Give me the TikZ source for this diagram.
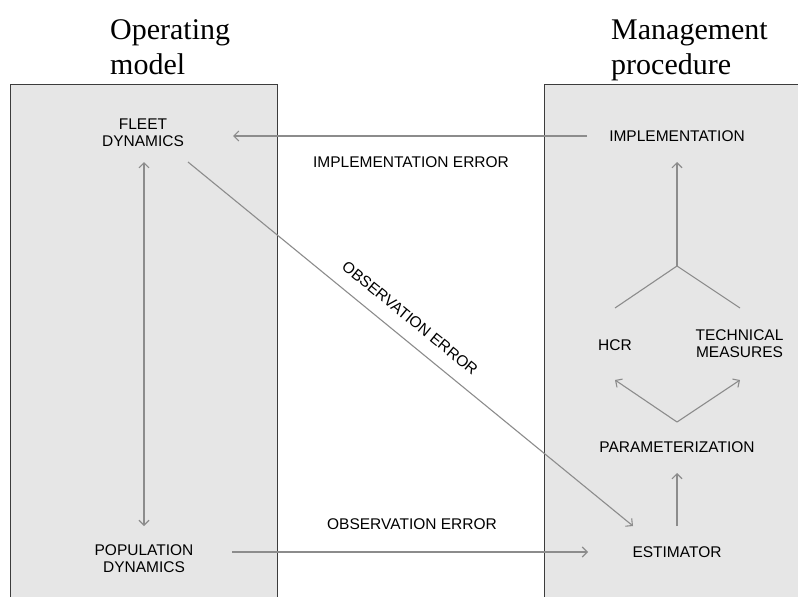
\documentclass[tikz,border=0pt]{standalone}
\usepackage{fontspec}
\setmainfont{Liberation Serif}
\newfontfamily\labelfont{Liberation Sans}
\usetikzlibrary{arrows.meta,calc}

\definecolor{panelfill}{HTML}{E6E6E6}
\definecolor{panelline}{HTML}{3C3C3C}
\definecolor{linkgray}{HTML}{8C8C8C}

\tikzset{
  panel/.style={fill=panelfill, draw=panelline, line width=1pt},
  heading/.style={anchor=north west, inner sep=0pt, align=left,
    font=\fontsize{30}{35}\selectfont},
  box/.style={inner sep=0pt, align=center,
    font=\labelfont\fontsize{15.5}{17}\selectfont},
  tag/.style={inner sep=0pt, font=\labelfont\fontsize{15.5}{17}\selectfont},
  link/.style={draw=linkgray, line width=1.1pt},
  arr/.style={link, -{Straight Barb[length=5pt,width=10pt]}},
  dblarr/.style={link, {Straight Barb[length=5pt,width=10pt]}-{Straight Barb[length=5pt,width=10pt]}}
}

\begin{document}
\begin{tikzpicture}[x=1pt, y=-1pt]
  \clip (0,0) rectangle (798,597);
  \useasboundingbox (0,0) rectangle (798,597);

  % the two panels
  \path[panel] (10,620) -- (10,84) -- (277,84) -- (277,620);
  \path[panel] (544,620) -- (544,84) -- (820,84) -- (820,620);

  % panel headings
  \node[heading] (hOM) at (110,19.5) {Operating\\model};
  \node[heading] (hMP) at (611,19.5) {Management\\procedure};

  % operating model
  \node[box] (fleet) at (143,133) {FLEET\\DYNAMICS};
  \node[box] (pop) at (144,559) {POPULATION\\DYNAMICS};

  % management procedure
  \node[box] (impl) at (677,136) {IMPLEMENTATION};
  \node[box] (hcr) at (615,345) {HCR};
  \node[box] (tech) at (739.5,344) {TECHNICAL\\MEASURES};
  \node[box] (param) at (677,447) {PARAMETERIZATION};
  \node[box] (est) at (677,552) {ESTIMATOR};

  % error labels
  \node[tag] (implerr) at (411,162) {IMPLEMENTATION ERROR};
  \node[tag] (obserr) at (412,524) {OBSERVATION ERROR};
  \node[tag, rotate=-39.3] (obserrdiag) at (410,318) {OBSERVATION ERROR};

  % junctions inside the management procedure
  \coordinate (join) at ($(impl)+(0,130)$);
  \coordinate (split) at ($(param)+(0,-25)$);

  % connectors
  \draw[dblarr] ($(fleet)+(1,29)$) -- ($(pop)+(0,-33)$);
  \draw[arr] ($(impl)+(-90,0)$) -- ($(fleet)+(90,3)$);
  \draw[arr] ($(fleet)+(45,29)$) -- ($(est)+(-44,-26)$);
  \draw[arr] ($(pop)+(88,-7)$) -- ($(est)+(-89,0)$);
  \draw[arr] ($(est)+(0,-26)$) -- ($(param)+(0,26)$);
  \draw[arr] (split) -- ($(hcr)+(0,35)$);
  \draw[arr] (split) -- ($(tech)+(0.5,36)$);
  \draw[link] ($(hcr)+(0,-37)$) -- (join) -- ($(tech)+(0.5,-36)$);
  \draw[arr] (join) -- ($(impl)+(0,26)$);
\end{tikzpicture}
\end{document}
